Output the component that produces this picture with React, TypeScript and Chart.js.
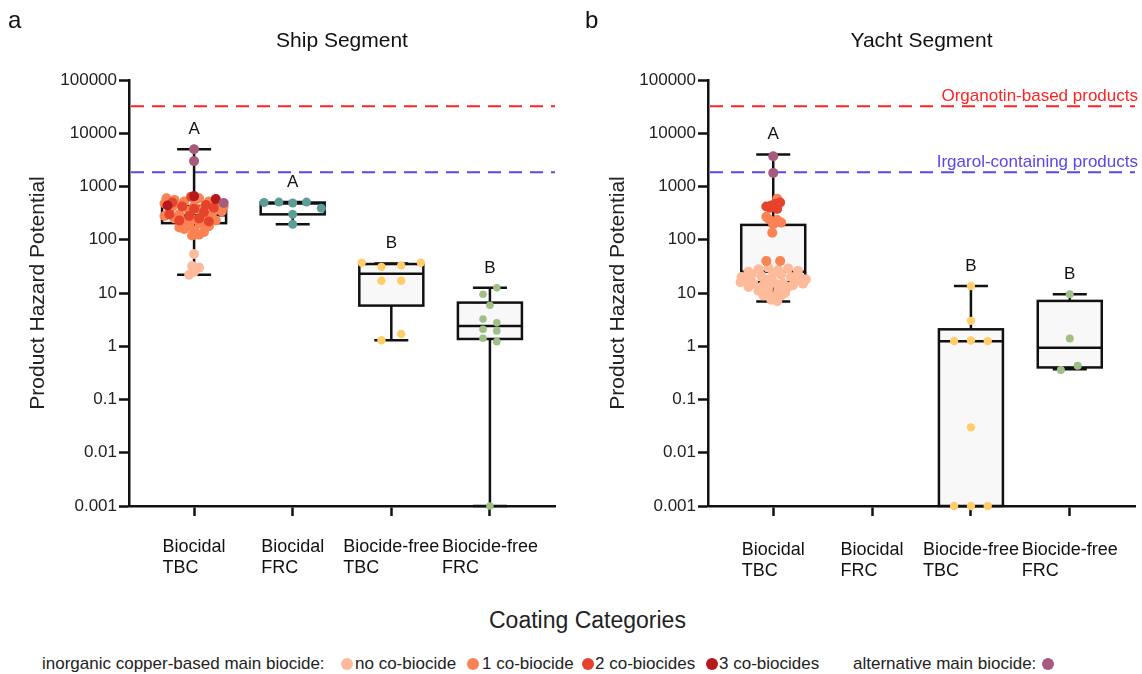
import React, { useEffect, useRef } from 'react';
import { Chart, registerables } from 'chart.js';

Chart.register(...registerables);

const FONT = "'Liberation Sans', Arial, Helvetica, sans-serif";
Chart.defaults.font.family = FONT;

// ---------- shared ----------
const categories = ['Biocidal TBC', 'Biocidal FRC', 'Biocide-free TBC', 'Biocide-free FRC'];
const yTickValues = [0.001, 0.01, 0.1, 1, 10, 100, 1000, 10000, 100000];
const yTickLabels = ['0.001', '0.01', '0.1', '1', '10', '100', '1000', '10000', '100000'];
const refValues = [32000, 1850];
const refLabels = ['Organotin-based products', 'Irgarol-containing products'];
const refColors = ['#FF2424', '#5B46E8'];

const colNoCo = '#FDBB9C';
const col1Co = '#FB8252';
const col2Co = '#E5432C';
const col3Co = '#B5191D';
const colAlt = '#A65A7E';
const colTeal = '#5C9E97';
const colYellow = '#FFCD69';
const colGreen = '#9EBF88';

// ---------- ship segment ----------
const shipMin = [22, 195, 1.3, 0.001];
const shipQ1 = [205, 300, 5.8, 1.37];
const shipMedian = [290, 480, 23, 2.4];
const shipQ3 = [430, 500, 35, 6.6];
const shipMax = [5000, 510, 36, 12.5];
const shipLetters = ['A', 'A', 'B', 'B'];

const shipTbcAltValues = [5000, 3000, 490];
const shipTbcAltJitter = [0, 0, 0.3];
const shipTbc3CoValues = [660, 440, 580];
const shipTbc3CoJitter = [0.0, -0.27, 0.22];
const shipTbc2CoValues = [500, 420, 380, 450, 300, 280, 330, 400, 230, 250, 220, 640];
const shipTbc2CoJitter = [-0.22, -0.12, 0.0, 0.12, -0.25, -0.05, 0.1, 0.2, -0.15, 0.05, 0.15, -0.03];
const shipTbc1CoValues = [600, 560, 520, 600, 520, 480, 480, 420, 450, 430, 400, 380, 420, 330, 300, 350, 320, 300, 340, 280, 250, 220, 240, 260, 230, 190, 200, 180, 160, 150, 140, 120, 125, 170];
const shipTbc1CoJitter = [-0.28, -0.2, -0.1, 0.05, 0.15, 0.25, -0.3, -0.22, -0.12, 0.0, 0.1, 0.2, 0.3, -0.25, -0.15, -0.05, 0.08, 0.18, 0.28, -0.3, -0.2, -0.1, 0.0, 0.12, 0.22, -0.05, 0.06, 0.15, -0.1, 0.0, 0.1, -0.02, 0.05, -0.15];
const shipTbcNoCoValues = [54, 32, 30, 25, 22];
const shipTbcNoCoJitter = [0, -0.02, 0.05, 0.0, -0.05];
const shipFrcValues = [500, 510, 490, 510, 390, 300, 195];
const shipFrcJitter = [-0.29, -0.14, 0, 0.14, 0.29, 0, 0];
const shipFreeTbcValues = [37, 31, 33, 37, 17, 17, 1.3, 1.7];
const shipFreeTbcJitter = [-0.3, -0.1, 0.1, 0.3, -0.1, 0.1, -0.1, 0.1];
const shipFreeFrcValues = [12.5, 9.5, 5.9, 3.25, 2.75, 2.08, 1.94, 1.41, 1.22, 0.001];
const shipFreeFrcJitter = [0.07, -0.07, 0, -0.07, 0.07, -0.07, 0.07, -0.07, 0.07, 0];

// ---------- yacht segment ----------
const yachtMin = [6.9, null, 0.001, 0.37];
const yachtQ1 = [16, null, 0.001, 0.4];
const yachtMedian = [25, null, 1.24, 0.94];
const yachtQ3 = [190, null, 2.08, 7.1];
const yachtMax = [4000, null, 13.5, 9.5];
const yachtLetters = ['A', '', 'B', 'B'];

const yachtTbcAltValues = [3700, 1800];
const yachtTbcAltJitter = [0, 0];
const yachtTbc2CoValues = [420, 440, 380, 400, 470, 500];
const yachtTbc2CoJitter = [-0.07, -0.02, 0.04, -0.03, 0.02, 0.07];
const yachtTbc1CoValues = [590, 270, 235, 240, 210, 195, 135, 40, 40];
const yachtTbc1CoJitter = [0.04, -0.07, 0.04, -0.04, 0.08, 0, -0.01, -0.07, 0.07];
const yachtTbcNoCoValues = [28, 30, 27, 29, 25, 26, 24, 20, 22, 21, 19, 22, 20, 19, 18, 17, 17, 18, 16, 15, 14, 16, 15, 14, 15, 13, 13, 12.5, 13.5, 11, 10, 11, 10, 9, 8.5, 9, 7.5, 7];
const yachtTbcNoCoJitter = [-0.15, -0.05, 0.05, 0.15, -0.25, 0.25, 0.0, -0.32, -0.22, -0.12, -0.02, 0.08, 0.18, 0.28, 0.33, -0.28, 0.22, -0.08, -0.33, -0.2, -0.1, 0.0, 0.1, 0.2, 0.3, -0.25, 0.15, -0.05, 0.05, -0.15, -0.05, 0.05, 0.12, -0.1, 0.0, 0.08, -0.02, 0.04];
const yachtFreeTbcValues = [13.5, 3.0, 1.25, 1.28, 1.25, 0.03, 0.001, 0.001, 0.001];
const yachtFreeTbcJitter = [0, 0, -0.17, 0, 0.17, 0, -0.17, 0, 0.17];
const yachtFreeFrcValues = [9.5, 1.4, 0.36, 0.43];
const yachtFreeFrcJitter = [0, 0, -0.09, 0.08];

type Group = { cat: number; values: number[]; jitter: number[]; color: string; radius: number; label: string };

const shipGroups: Group[] = [
  { label: 'alternative', cat: 0, values: shipTbcAltValues, jitter: shipTbcAltJitter, color: colAlt, radius: 5 },
  { label: '3 co-biocides', cat: 0, values: shipTbc3CoValues, jitter: shipTbc3CoJitter, color: col3Co, radius: 5 },
  { label: '2 co-biocides', cat: 0, values: shipTbc2CoValues, jitter: shipTbc2CoJitter, color: col2Co, radius: 5 },
  { label: '1 co-biocide', cat: 0, values: shipTbc1CoValues, jitter: shipTbc1CoJitter, color: col1Co, radius: 5 },
  { label: 'no co-biocide', cat: 0, values: shipTbcNoCoValues, jitter: shipTbcNoCoJitter, color: colNoCo, radius: 5 },
  { label: 'Biocidal FRC', cat: 1, values: shipFrcValues, jitter: shipFrcJitter, color: colTeal, radius: 4.5 },
  { label: 'Biocide-free TBC', cat: 2, values: shipFreeTbcValues, jitter: shipFreeTbcJitter, color: colYellow, radius: 4.2 },
  { label: 'Biocide-free FRC', cat: 3, values: shipFreeFrcValues, jitter: shipFreeFrcJitter, color: colGreen, radius: 3.8 },
];

const yachtGroups: Group[] = [
  { label: 'alternative', cat: 0, values: yachtTbcAltValues, jitter: yachtTbcAltJitter, color: colAlt, radius: 5 },
  { label: '2 co-biocides', cat: 0, values: yachtTbc2CoValues, jitter: yachtTbc2CoJitter, color: col2Co, radius: 5 },
  { label: '1 co-biocide', cat: 0, values: yachtTbc1CoValues, jitter: yachtTbc1CoJitter, color: col1Co, radius: 5 },
  { label: 'no co-biocide', cat: 0, values: yachtTbcNoCoValues, jitter: yachtTbcNoCoJitter, color: colNoCo, radius: 5 },
  { label: 'Biocide-free TBC', cat: 2, values: yachtFreeTbcValues, jitter: yachtFreeTbcJitter, color: colYellow, radius: 4.2 },
  { label: 'Biocide-free FRC', cat: 3, values: yachtFreeFrcValues, jitter: yachtFreeFrcJitter, color: colGreen, radius: 4 },
];

type Spec = {
  title: string;
  min: (number | null)[];
  q1: (number | null)[];
  median: (number | null)[];
  q3: (number | null)[];
  max: (number | null)[];
  letters: string[];
  boxFill: string[];
  groups: Group[];
  showRefLabels: boolean;
  yWidth: number;
  rightPad: number;
  labelOffsets: number[];
};

const BOX_HALF = 32;
const CAP_HALF = 17;

function makeOverlay(spec: Spec) {
  return {
    id: 'boxOverlay',
    beforeDatasetsDraw(chart: any) {
      const { ctx, chartArea: ca, scales } = chart;
      const xs = scales.x;
      const ys = scales.y;
      ctx.save();
      ctx.lineWidth = 2;
      ctx.setLineDash([13, 8]);
      refValues.forEach((v, i) => {
        const py = ys.getPixelForValue(v);
        ctx.strokeStyle = refColors[i];
        ctx.beginPath();
        ctx.moveTo(ca.left + 2, py);
        ctx.lineTo(ca.right, py);
        ctx.stroke();
        if (spec.showRefLabels) {
          ctx.fillStyle = refColors[i];
          ctx.font = `17px ${FONT}`;
          ctx.textAlign = 'right';
          ctx.textBaseline = 'middle';
          ctx.fillText(refLabels[i], ca.right + 3, py - 10);
        }
      });
      ctx.setLineDash([]);
      ctx.strokeStyle = '#111';
      ctx.lineWidth = 2.5;
      categories.forEach((_, i) => {
        const mn = spec.min[i];
        if (mn == null) return;
        const cx = xs.getPixelForValue(i);
        const pMin = ys.getPixelForValue(mn);
        const pQ1 = ys.getPixelForValue(spec.q1[i]);
        const pMed = ys.getPixelForValue(spec.median[i]);
        const pQ3 = ys.getPixelForValue(spec.q3[i]);
        const pMax = ys.getPixelForValue(spec.max[i]);
        ctx.beginPath();
        ctx.moveTo(cx, pMax);
        ctx.lineTo(cx, pQ3);
        ctx.moveTo(cx, pQ1);
        ctx.lineTo(cx, pMin);
        ctx.moveTo(cx - CAP_HALF, pMax);
        ctx.lineTo(cx + CAP_HALF, pMax);
        ctx.moveTo(cx - CAP_HALF, pMin);
        ctx.lineTo(cx + CAP_HALF, pMin);
        ctx.stroke();
        ctx.fillStyle = spec.boxFill[i];
        ctx.fillRect(cx - BOX_HALF, pQ3, BOX_HALF * 2, pQ1 - pQ3);
        ctx.strokeRect(cx - BOX_HALF, pQ3, BOX_HALF * 2, pQ1 - pQ3);
        ctx.beginPath();
        ctx.moveTo(cx - BOX_HALF, pMed);
        ctx.lineTo(cx + BOX_HALF, pMed);
        ctx.stroke();
        ctx.fillStyle = '#111';
        ctx.font = `17px ${FONT}`;
        ctx.textAlign = 'center';
        ctx.textBaseline = 'middle';
        ctx.fillText(spec.letters[i], cx, pMax - 20);
      });
      ctx.restore();
    },
    afterDraw(chart: any) {
      const { ctx, chartArea: ca, scales } = chart;
      const xs = scales.x;
      ctx.save();
      ctx.font = `18px ${FONT}`;
      ctx.fillStyle = '#111';
      ctx.textAlign = 'left';
      ctx.textBaseline = 'middle';
      categories.forEach((cat, i) => {
        const cut = cat.lastIndexOf(' ');
        const lines = [cat.slice(0, cut), cat.slice(cut + 1)];
        const w = Math.max(...lines.map((l) => ctx.measureText(l).width));
        const x0 = xs.getPixelForValue(i) - w / 2;
        lines.forEach((l, k) => ctx.fillText(l, x0, ca.bottom + spec.labelOffsets[k]));
      });
      ctx.restore();
    },
  };
}

function buildConfig(spec: Spec): any {
  const datasets = spec.groups.map((g) => ({
    type: 'scatter',
    label: g.label,
    data: g.values.map((v, i) => ({ x: g.cat + g.jitter[i], y: v })),
    backgroundColor: g.color,
    borderColor: g.color,
    pointRadius: g.radius,
    pointBorderWidth: 0,
    borderWidth: 0,
    clip: false,
  }));
  return {
    type: 'scatter',
    data: { datasets },
    plugins: [makeOverlay(spec)],
    options: {
      animation: false,
      responsive: false,
      devicePixelRatio: 1,
      events: [],
      layout: { padding: { left: 0, right: spec.rightPad, top: 0, bottom: 0 } },
      plugins: {
        legend: { display: false },
        tooltip: { enabled: false },
        title: {
          display: true,
          text: spec.title,
          fullSize: false,
          color: '#111',
          font: { size: 21, weight: 'normal', family: FONT },
          padding: { top: 29, bottom: 25.8 },
        },
      },
      scales: {
        x: {
          type: 'linear',
          min: -0.66,
          max: 3.66,
          afterBuildTicks: (s: any) => {
            s.ticks = categories.map((_, i) => ({ value: i }));
          },
          afterFit: (s: any) => {
            s.height = 94;
          },
          ticks: { display: false },
          grid: { drawOnChartArea: false, drawTicks: true, tickLength: 10, tickColor: '#111', tickWidth: 2.5 },
          border: { color: '#111', width: 2.5 },
        },
        y: {
          type: 'logarithmic',
          min: 0.001,
          max: 100000,
          afterBuildTicks: (s: any) => {
            s.ticks = yTickValues.map((v) => ({ value: v }));
          },
          afterFit: (s: any) => {
            s.width = spec.yWidth;
          },
          ticks: {
            autoSkip: false,
            padding: 2,
            color: '#222',
            font: { size: 17, family: FONT },
            callback: (v: number) => {
              const k = yTickValues.indexOf(v);
              return k >= 0 ? yTickLabels[k] : '';
            },
          },
          grid: { drawOnChartArea: false, drawTicks: true, tickLength: 10, tickColor: '#111', tickWidth: 2.5 },
          border: { color: '#111', width: 2.5 },
          title: {
            display: true,
            text: 'Product Hazard Potential',
            color: '#222',
            font: { size: 21, family: FONT },
            padding: { top: 25.4, bottom: 0 },
          },
        },
      },
    },
  };
}

const shipSpec: Spec = {
  title: 'Ship Segment',
  min: shipMin,
  q1: shipQ1,
  median: shipMedian,
  q3: shipQ3,
  max: shipMax,
  letters: shipLetters,
  boxFill: ['#ffffff', '#ffffff', '#f8f8f8', '#f8f8f8'],
  groups: shipGroups,
  showRefLabels: false,
  yWidth: 129,
  rightPad: 25,
  labelOffsets: [41, 62],
};

const yachtSpec: Spec = {
  title: 'Yacht Segment',
  min: yachtMin,
  q1: yachtQ1,
  median: yachtMedian,
  q3: yachtQ3,
  max: yachtMax,
  letters: yachtLetters,
  boxFill: ['#f8f8f8', '#f8f8f8', '#f8f8f8', '#f8f8f8'],
  groups: yachtGroups,
  showRefLabels: true,
  yWidth: 128,
  rightPad: 7,
  labelOffsets: [44, 65],
};

function Panel({ left, width, spec }: { left: number; width: number; spec: Spec }) {
  const ref = useRef<HTMLCanvasElement>(null);
  useEffect(() => {
    const chart = new Chart(ref.current as HTMLCanvasElement, buildConfig(spec));
    return () => chart.destroy();
  }, [spec]);
  return (
    <canvas
      ref={ref}
      width={width}
      height={600}
      style={{ position: 'absolute', left, top: 0, width, height: 600 }}
    />
  );
}

const legendItems = [
  { kind: 'text', text: 'inorganic copper-based main biocide:', left: 42 },
  { kind: 'dot', color: colNoCo, left: 347 },
  { kind: 'text', text: 'no co-biocide', left: 355 },
  { kind: 'dot', color: col1Co, left: 473 },
  { kind: 'text', text: '1 co-biocide', left: 482 },
  { kind: 'dot', color: col2Co, left: 588 },
  { kind: 'text', text: '2 co-biocides', left: 595 },
  { kind: 'dot', color: col3Co, left: 712 },
  { kind: 'text', text: '3 co-biocides', left: 719 },
  { kind: 'text', text: 'alternative main biocide:', left: 853 },
  { kind: 'dot', color: colAlt, left: 1048 },
];

export default function App() {
  return (
    <div
      style={{
        position: 'absolute',
        left: 0,
        top: 0,
        width: 1142,
        height: 674,
        background: '#fff',
        overflow: 'hidden',
        fontFamily: FONT,
        color: '#111',
      }}
    >
      <Panel left={0} width={580} spec={shipSpec} />
      <Panel left={580} width={562} spec={yachtSpec} />
      <div style={{ position: 'absolute', left: 8, top: 8, fontSize: 24, lineHeight: '24px' }}>a</div>
      <div style={{ position: 'absolute', left: 585, top: 8, fontSize: 24, lineHeight: '24px' }}>b</div>
      <div style={{ position: 'absolute', left: 489, top: 609, fontSize: 23, lineHeight: '23px', color: '#222' }}>
        Coating Categories
      </div>
      {legendItems.map((it, i) =>
        it.kind === 'text' ? (
          <div
            key={i}
            style={{ position: 'absolute', left: it.left, top: 655, fontSize: 17, lineHeight: '17px', color: '#222', whiteSpace: 'nowrap' }}
          >
            {it.text}
          </div>
        ) : (
          <div
            key={i}
            style={{
              position: 'absolute',
              left: (it.left as number) - 6,
              top: 658,
              width: 12,
              height: 12,
              borderRadius: '50%',
              background: it.color,
            }}
          />
        )
      )}
    </div>
  );
}
